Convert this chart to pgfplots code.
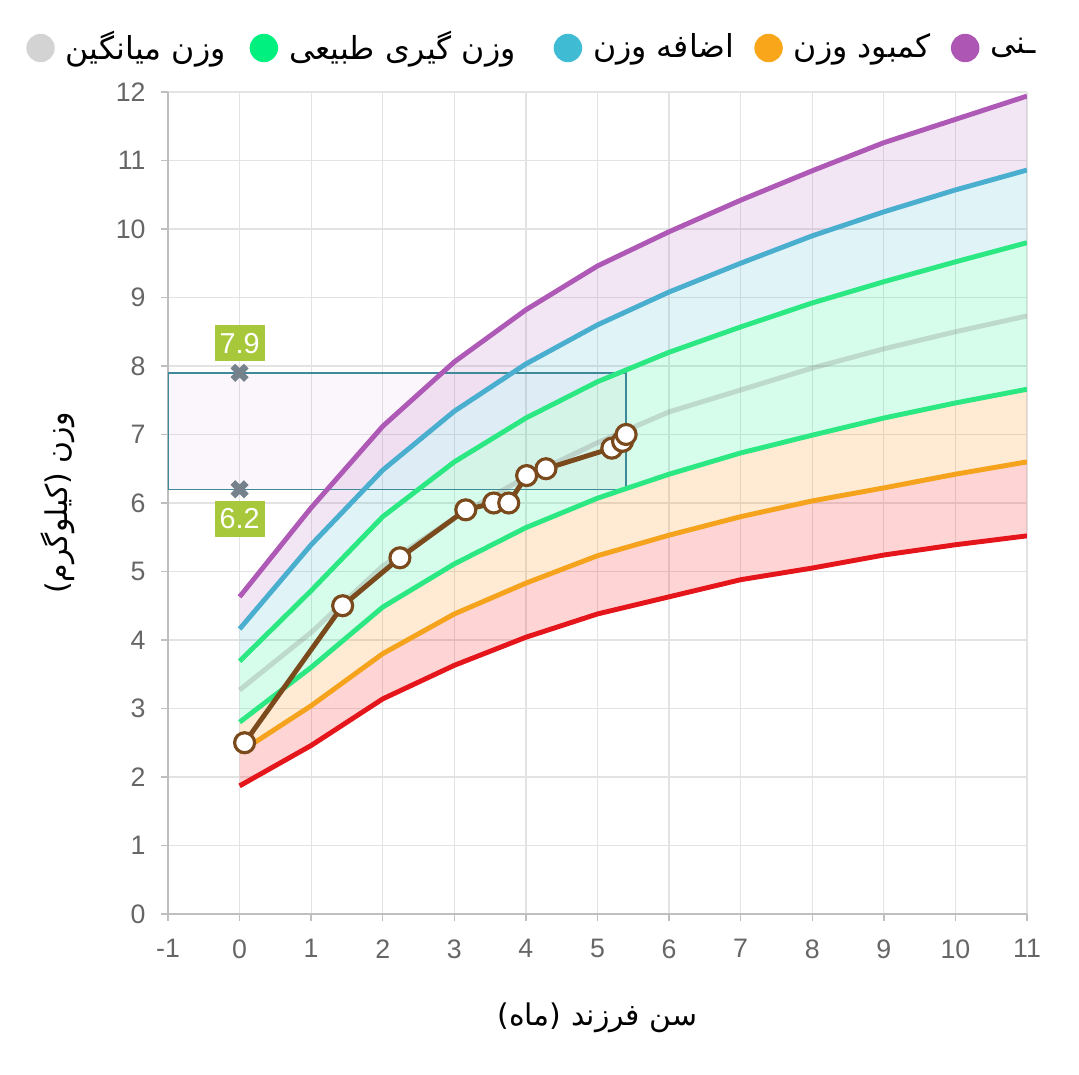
\documentclass[border=0pt]{standalone}
\usepackage{fontspec}
\setmainfont{Liberation Sans}
\newfontfamily\arabicfont[Script=Arabic]{DejaVu Sans}
\TeXXeTstate=1
\usepackage{pgfplots}
\pgfplotsset{compat=1.18}
\usepackage{pgfplotstable}
\usepgfplotslibrary{fillbetween}

\definecolor{cred}{HTML}{E5161B}
\definecolor{corange}{HTML}{F5A31C}
\definecolor{cgreen}{HTML}{2BE882}
\definecolor{cblue}{HTML}{4AAFCF}
\definecolor{cpurple}{HTML}{AF59B7}
\definecolor{cbrown}{HTML}{7A4A1C}
\definecolor{lgray}{HTML}{D3D3D3}
\definecolor{lgreen}{HTML}{00F080}
\definecolor{lblue}{HTML}{3FBCD4}
\definecolor{lorange}{HTML}{FAA61A}
\definecolor{lpurple}{HTML}{AE56B4}
\definecolor{tagbg}{HTML}{A7C83A}
\definecolor{xgray}{HTML}{75828C}
\definecolor{boxline}{HTML}{3E8A99}

% growth curves: x = month
\pgfplotstableread{
x  r    o    gl   m    gu   b     p
0  1.87 2.36 2.80 3.27 3.69 4.16  4.63
1  2.46 3.04 3.60 4.11 4.72 5.39  5.93
2  3.14 3.80 4.48 5.08 5.80 6.48  7.12
3  3.63 4.38 5.11 5.78 6.60 7.34  8.06
4  4.04 4.83 5.64 6.38 7.24 8.03  8.82
5  4.38 5.23 6.07 6.88 7.77 8.60  9.46
6  4.63 5.53 6.42 7.33 8.20 9.08  9.96
7  4.88 5.80 6.73 7.65 8.57 9.50  10.42
8  5.05 6.03 6.99 7.97 8.92 9.90  10.85
9  5.24 6.22 7.24 8.25 9.23 10.25 11.26
10 5.39 6.42 7.46 8.50 9.52 10.57 11.60
11 5.52 6.60 7.66 8.73 9.80 10.86 11.94
}\curves

% child's measurements
\pgfplotstableread{
x    y
0.07 2.5
1.44 4.5
2.24 5.2
3.16 5.9
3.55 6.0
3.76 6.0
4.01 6.4
4.28 6.5
5.20 6.8
5.35 6.9
5.40 7.0
}\child

\begin{document}
\begin{tikzpicture}
\begin{axis}[
    scale only axis,
    width=8.59cm, height=8.22cm,
    xmin=-1, xmax=11, ymin=0, ymax=12,
    xtick={-1,0,...,11}, ytick={0,1,...,12},
    grid=major,
    grid style={color=black!11, line width=0.35pt},
    axis x line*=bottom, axis y line*=left,
    axis line style={color=black!25, line width=0.4pt},
    tick align=outside,
    major tick length=0.7mm,
    tick style={color=black!25, line width=0.4pt},
    /pgf/number format/assume math mode=true,
    ticklabel style={font=\fontsize{7.6}{9}\selectfont, text=black!60},
    xticklabel style={yshift=-0.6mm},
    yticklabel style={xshift=-0.3mm},
    xlabel={\arabicfont\beginR سن فرزند (ماه)\endR},
    ylabel={\arabicfont\beginR وزن (کیلوگرم)\endR},
    label style={font=\fontsize{8.5}{10}\selectfont},
    xlabel style={at={(rel axis cs:0.5,0)}, yshift=-7.6mm},
    ylabel style={at={(rel axis cs:0,0.5)}, yshift=8.1mm},
    legend columns=-1,
    legend style={at={(rel axis cs:-0.178,1.0535)}, anchor=west, draw=none, fill=none,
        font=\fontsize{9}{11}\selectfont,
        /tikz/every odd column/.append style={column sep=0.4mm},
        /tikz/every even column/.append style={column sep=1.3mm}},
]
% legend only
\addlegendimage{legend image code/.code={\fill[lgray] (0.3cm,0) circle (1.35mm);}}
\addlegendentry{\arabicfont\beginR وزن میانگین\endR\rule{0.4mm}{0pt}}
\addlegendimage{legend image code/.code={\fill[lgreen] (0.3cm,0) circle (1.35mm);}}
\addlegendentry{\arabicfont\beginR وزن گیری طبیعی\endR\rule{1.8mm}{0pt}}
\addlegendimage{legend image code/.code={\fill[lblue] (0.3cm,0) circle (1.35mm);}}
\addlegendentry{\arabicfont\beginR اضافه وزن\endR}
\addlegendimage{legend image code/.code={\fill[lorange] (0.3cm,0) circle (1.35mm);}}
\addlegendentry{\arabicfont\beginR کمبود وزن\endR}
\addlegendimage{legend image code/.code={\fill[lpurple] (0.3cm,0) circle (1.35mm);}}
\addlegendentry{\arabicfont\beginR ـنی\endR}

% band boundaries
\addplot[draw=none, name path=r, forget plot] table[x=x, y=r] {\curves};
\addplot[draw=none, name path=o, forget plot] table[x=x, y=o] {\curves};
\addplot[draw=none, name path=gl, forget plot] table[x=x, y=gl] {\curves};
\addplot[draw=none, name path=gu, forget plot] table[x=x, y=gu] {\curves};
\addplot[draw=none, name path=b, forget plot] table[x=x, y=b] {\curves};
\addplot[draw=none, name path=p, forget plot] table[x=x, y=p] {\curves};
\addplot[fill=red, fill opacity=0.17, forget plot] fill between[of=r and o];
\addplot[fill=orange, fill opacity=0.17, forget plot] fill between[of=o and gl];
\addplot[fill=lgreen, fill opacity=0.16, forget plot] fill between[of=gl and gu];
\addplot[fill=lblue, fill opacity=0.16, forget plot] fill between[of=gu and b];
\addplot[fill=lpurple, fill opacity=0.15, forget plot] fill between[of=b and p];

% selected range box
\addplot[draw=boxline, line width=0.4pt, fill=lpurple, fill opacity=0.05, forget plot]
    coordinates {(-1,6.2) (5.4,6.2) (5.4,7.9) (-1,7.9)} -- cycle;

% curves
\addplot[cred, line width=1.4pt, forget plot] table[x=x, y=r] {\curves};
\addplot[corange, line width=1.4pt, forget plot] table[x=x, y=o] {\curves};
\addplot[cgreen, line width=1.4pt, forget plot] table[x=x, y=gl] {\curves};
\addplot[black!55, opacity=0.25, line width=1.4pt, forget plot] table[x=x, y=m] {\curves};
\addplot[cgreen, line width=1.4pt, forget plot] table[x=x, y=gu] {\curves};
\addplot[cblue, line width=1.4pt, forget plot] table[x=x, y=b] {\curves};
\addplot[cpurple, line width=1.4pt, forget plot] table[x=x, y=p] {\curves};

% child
\addplot[cbrown, line width=1.4pt, mark=*, mark size=1mm,
    mark options={fill=white, draw=cbrown, line width=0.9pt}, forget plot]
    table[x=x, y=y] {\child};

% range markers with tags
\addplot[only marks, mark=x, mark size=0.95mm, mark options={xgray, line width=1.9pt},
    nodes near coords, point meta=explicit symbolic,
    nodes near coords style={anchor=south, yshift=0.8mm, fill=tagbg, text=white,
        font=\fontsize{8.2}{9}\selectfont, minimum width=4.9mm, minimum height=3.6mm, inner sep=0.5mm},
    forget plot]
    table[meta=label] {
x y label
0 7.9 7.9
};
\addplot[only marks, mark=x, mark size=0.95mm, mark options={xgray, line width=1.9pt},
    nodes near coords, point meta=explicit symbolic,
    nodes near coords style={anchor=north, yshift=-0.8mm, fill=tagbg, text=white,
        font=\fontsize{8.2}{9}\selectfont, minimum width=4.9mm, minimum height=3.6mm, inner sep=0.5mm},
    forget plot]
    table[meta=label] {
x y label
0 6.2 6.2
};
\end{axis}
\pgfresetboundingbox
\useasboundingbox (-1.68cm,-1.61cm) rectangle (9.11cm,9.14cm);
\end{tikzpicture}
\end{document}
